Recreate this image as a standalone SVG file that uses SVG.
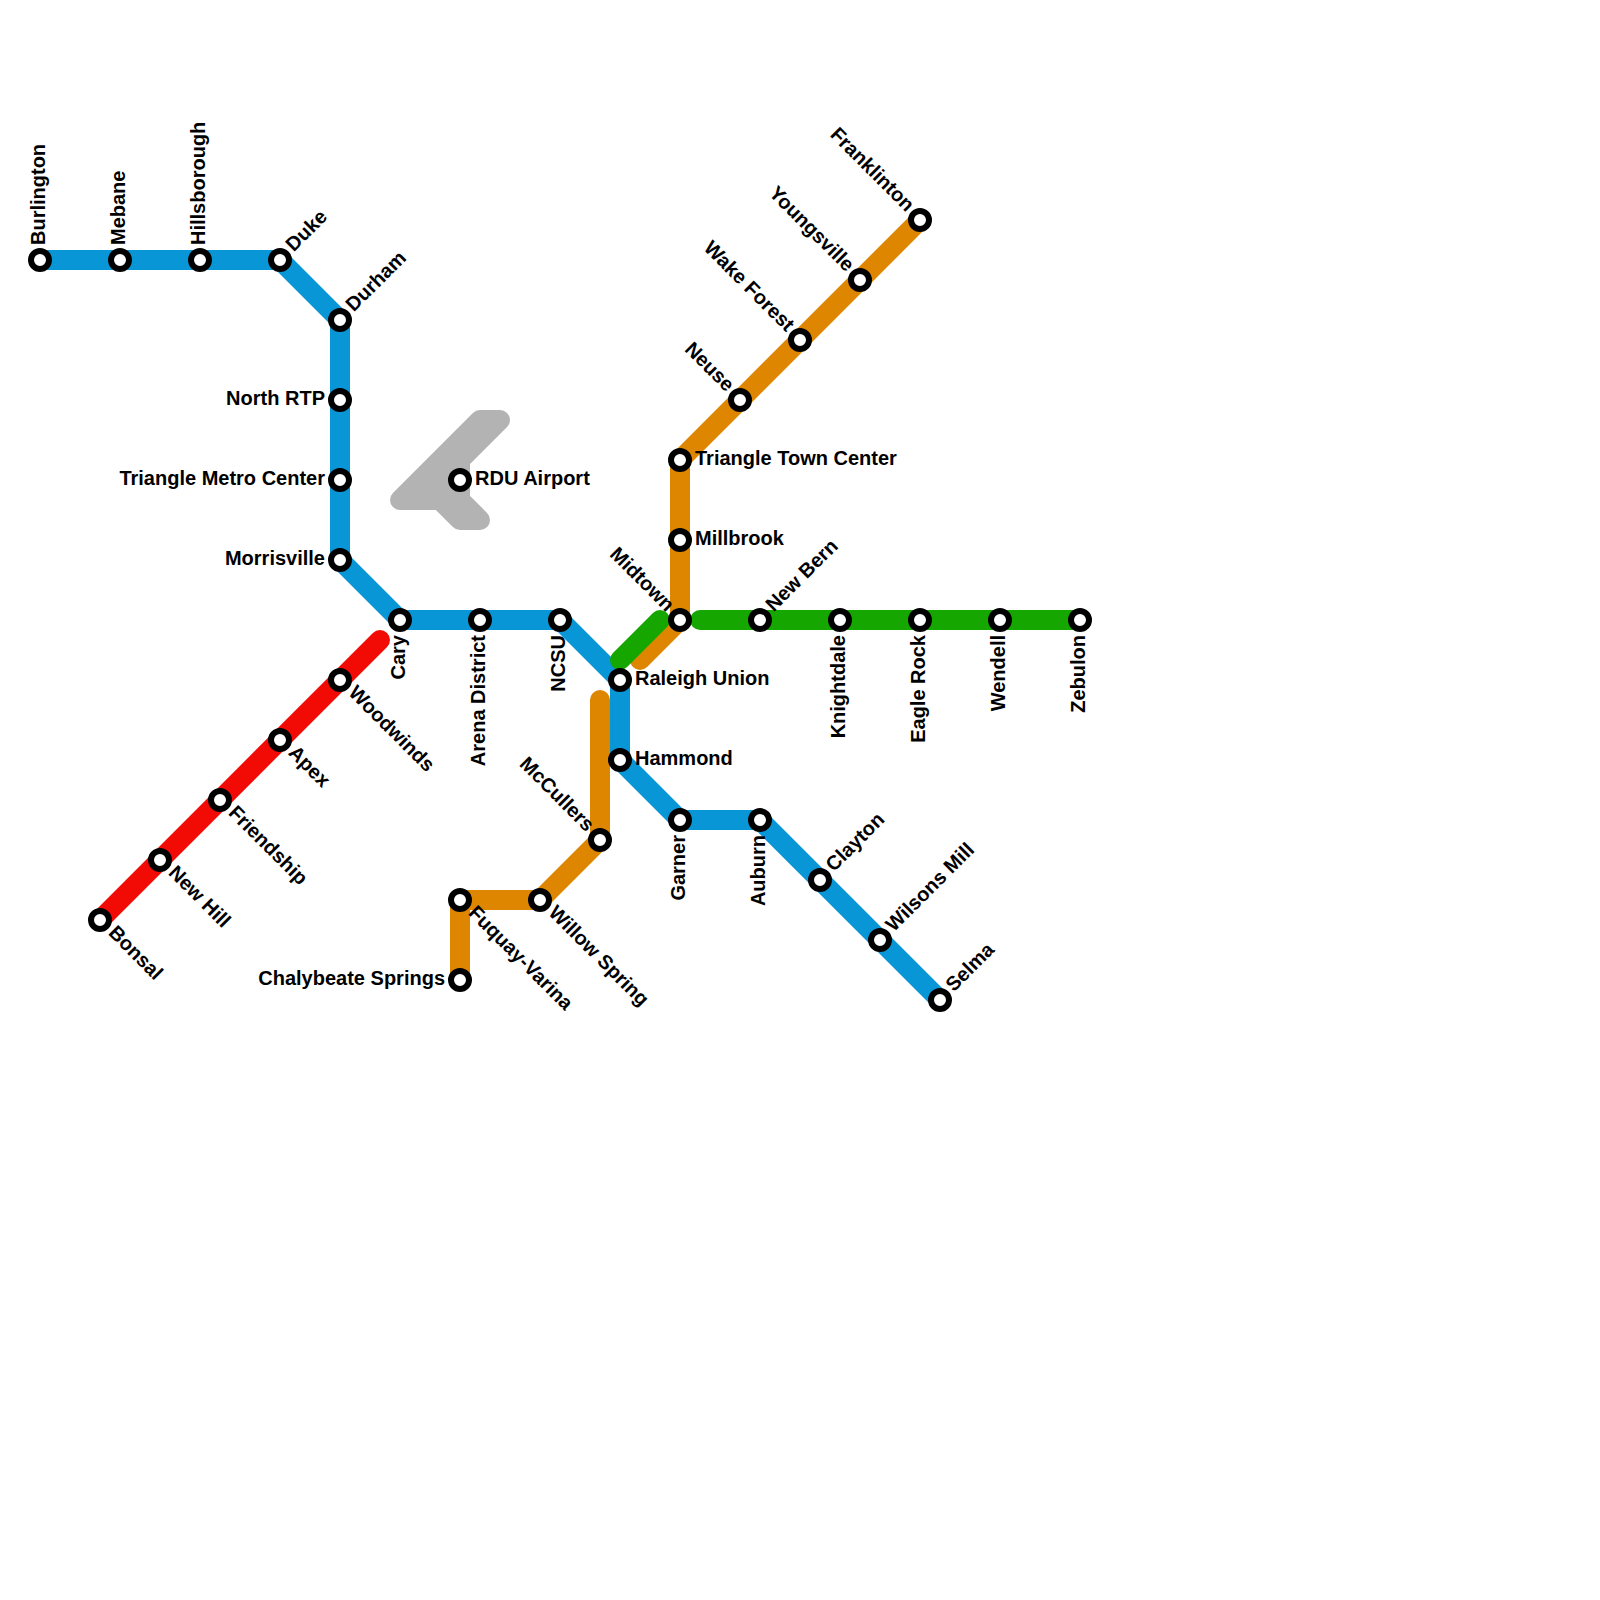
<svg xmlns="http://www.w3.org/2000/svg" width="1600" height="1600" viewBox="0 0 1600 1600">
<style>
.l{fill:none;stroke-width:20;stroke-linecap:round;stroke-linejoin:round}
.s{fill:#fff;stroke:#000;stroke-width:6}
text{font-family:"Liberation Sans",Arial,sans-serif;font-weight:700;font-size:20px;fill:#000}
.e{text-anchor:end}
</style>
<rect width="1600" height="1600" fill="#fff"/>
<g id="connectors">
<path id="airport" d="M400 500L480 420H500L460 460V500L480 520H460L440 500Z" fill="#b3b3b3" stroke="#b3b3b3" stroke-width="20" stroke-linejoin="round"/>
<path class="l" stroke="#df8600" d="M460 980V900H540L600 840V700"/>
<path class="l" stroke="#df8600" d="M920 220L680 460V620L640 660"/>
<path class="l" stroke="#f20a05" d="M100 920L380 640"/>
<path class="l" stroke="#0896d7" d="M40 260H280L340 320V560L400 620H560L620 680V760L680 820H760L940 1000"/>
<path class="l" stroke="#15a700" d="M620 660L660 620"/>
<path class="l" stroke="#15a700" d="M700 620H1080"/>
</g>
<g id="burlington"><circle class="s" cx="40" cy="260" r="9"/><text transform="translate(40 260) rotate(-90)" x="15" y="4.5">Burlington</text></g>
<g id="mebane"><circle class="s" cx="120" cy="260" r="9"/><text transform="translate(120 260) rotate(-90)" x="15" y="4.5">Mebane</text></g>
<g id="hillsborough"><circle class="s" cx="200" cy="260" r="9"/><text transform="translate(200 260) rotate(-90)" x="15" y="4.5">Hillsborough</text></g>
<g id="duke"><circle class="s" cx="280" cy="260" r="9"/><text transform="translate(280 260) rotate(-45)" x="15" y="4.5">Duke</text></g>
<g id="durham"><circle class="s" cx="340" cy="320" r="9"/><text transform="translate(340 320) rotate(-45)" x="15" y="4.5">Durham</text></g>
<g id="north-rtp"><circle class="s" cx="340" cy="400" r="9"/><text class="e" x="325" y="404.5">North RTP</text></g>
<g id="triangle-metro"><circle class="s" cx="340" cy="480" r="9"/><text class="e" x="325" y="484.5">Triangle Metro Center</text></g>
<g id="morrisville"><circle class="s" cx="340" cy="560" r="9"/><text class="e" x="325" y="564.5">Morrisville</text></g>
<g id="cary"><circle class="s" cx="400" cy="620" r="9"/><text class="e" transform="translate(400 620) rotate(-90)" x="-15" y="4.5">Cary</text></g>
<g id="arena"><circle class="s" cx="480" cy="620" r="9"/><text class="e" transform="translate(480 620) rotate(-90)" x="-15" y="4.5">Arena District</text></g>
<g id="ncsu"><circle class="s" cx="560" cy="620" r="9"/><text class="e" transform="translate(560 620) rotate(-90)" x="-15" y="4.5">NCSU</text></g>
<g id="raleigh-union"><circle class="s" cx="620" cy="680" r="9"/><text x="635" y="684.5">Raleigh Union</text></g>
<g id="hammond"><circle class="s" cx="620" cy="760" r="9"/><text x="635" y="764.5">Hammond</text></g>
<g id="garner"><circle class="s" cx="680" cy="820" r="9"/><text class="e" transform="translate(680 820) rotate(-90)" x="-15" y="4.5">Garner</text></g>
<g id="auburn"><circle class="s" cx="760" cy="820" r="9"/><text class="e" transform="translate(760 820) rotate(-90)" x="-15" y="4.5">Auburn</text></g>
<g id="clayton"><circle class="s" cx="820" cy="880" r="9"/><text transform="translate(820 880) rotate(-45)" x="15" y="4.5">Clayton</text></g>
<g id="wilsons-mill"><circle class="s" cx="880" cy="940" r="9"/><text transform="translate(880 940) rotate(-45)" x="15" y="4.5">Wilsons Mill</text></g>
<g id="selma"><circle class="s" cx="940" cy="1000" r="9"/><text transform="translate(940 1000) rotate(-45)" x="15" y="4.5">Selma</text></g>
<g id="franklinton"><circle class="s" cx="920" cy="220" r="9"/><text class="e" transform="translate(920 220) rotate(45)" x="-15" y="4.5">Franklinton</text></g>
<g id="youngsville"><circle class="s" cx="860" cy="280" r="9"/><text class="e" transform="translate(860 280) rotate(45)" x="-15" y="4.5">Youngsville</text></g>
<g id="wake-forest"><circle class="s" cx="800" cy="340" r="9"/><text class="e" transform="translate(800 340) rotate(45)" x="-15" y="4.5">Wake Forest</text></g>
<g id="neuse"><circle class="s" cx="740" cy="400" r="9"/><text class="e" transform="translate(740 400) rotate(45)" x="-15" y="4.5">Neuse</text></g>
<g id="triangle-town"><circle class="s" cx="680" cy="460" r="9"/><text x="695" y="464.5">Triangle Town Center</text></g>
<g id="millbrook"><circle class="s" cx="680" cy="540" r="9"/><text x="695" y="544.5">Millbrook</text></g>
<g id="midtown"><circle class="s" cx="680" cy="620" r="9"/><text class="e" transform="translate(680 620) rotate(45)" x="-15" y="4.5">Midtown</text></g>
<g id="new-bern"><circle class="s" cx="760" cy="620" r="9"/><text transform="translate(760 620) rotate(-45)" x="15" y="4.5">New Bern</text></g>
<g id="knightdale"><circle class="s" cx="840" cy="620" r="9"/><text class="e" transform="translate(840 620) rotate(-90)" x="-15" y="4.5">Knightdale</text></g>
<g id="eagle-rock"><circle class="s" cx="920" cy="620" r="9"/><text class="e" transform="translate(920 620) rotate(-90)" x="-15" y="4.5">Eagle Rock</text></g>
<g id="wendell"><circle class="s" cx="1000" cy="620" r="9"/><text class="e" transform="translate(1000 620) rotate(-90)" x="-15" y="4.5">Wendell</text></g>
<g id="zebulon"><circle class="s" cx="1080" cy="620" r="9"/><text class="e" transform="translate(1080 620) rotate(-90)" x="-15" y="4.5">Zebulon</text></g>
<g id="rdu"><circle class="s" cx="460" cy="480" r="9"/><text x="475" y="484.5">RDU Airport</text></g>
<g id="mccullers"><circle class="s" cx="600" cy="840" r="9"/><text class="e" transform="translate(600 840) rotate(45)" x="-15" y="4.5">McCullers</text></g>
<g id="willow-spring"><circle class="s" cx="540" cy="900" r="9"/><text transform="translate(540 900) rotate(45)" x="15" y="4.5">Willow Spring</text></g>
<g id="fuquay"><circle class="s" cx="460" cy="900" r="9"/><text transform="translate(460 900) rotate(45)" x="15" y="4.5">Fuquay-Varina</text></g>
<g id="chalybeate"><circle class="s" cx="460" cy="980" r="9"/><text class="e" x="445" y="984.5">Chalybeate Springs</text></g>
<g id="bonsal"><circle class="s" cx="100" cy="920" r="9"/><text transform="translate(100 920) rotate(45)" x="15" y="4.5">Bonsal</text></g>
<g id="new-hill"><circle class="s" cx="160" cy="860" r="9"/><text transform="translate(160 860) rotate(45)" x="15" y="4.5">New Hill</text></g>
<g id="friendship"><circle class="s" cx="220" cy="800" r="9"/><text transform="translate(220 800) rotate(45)" x="15" y="4.5">Friendship</text></g>
<g id="apex"><circle class="s" cx="280" cy="740" r="9"/><text transform="translate(280 740) rotate(45)" x="15" y="4.5">Apex</text></g>
<g id="woodwinds"><circle class="s" cx="340" cy="680" r="9"/><text transform="translate(340 680) rotate(45)" x="15" y="4.5">Woodwinds</text></g>
</svg>
